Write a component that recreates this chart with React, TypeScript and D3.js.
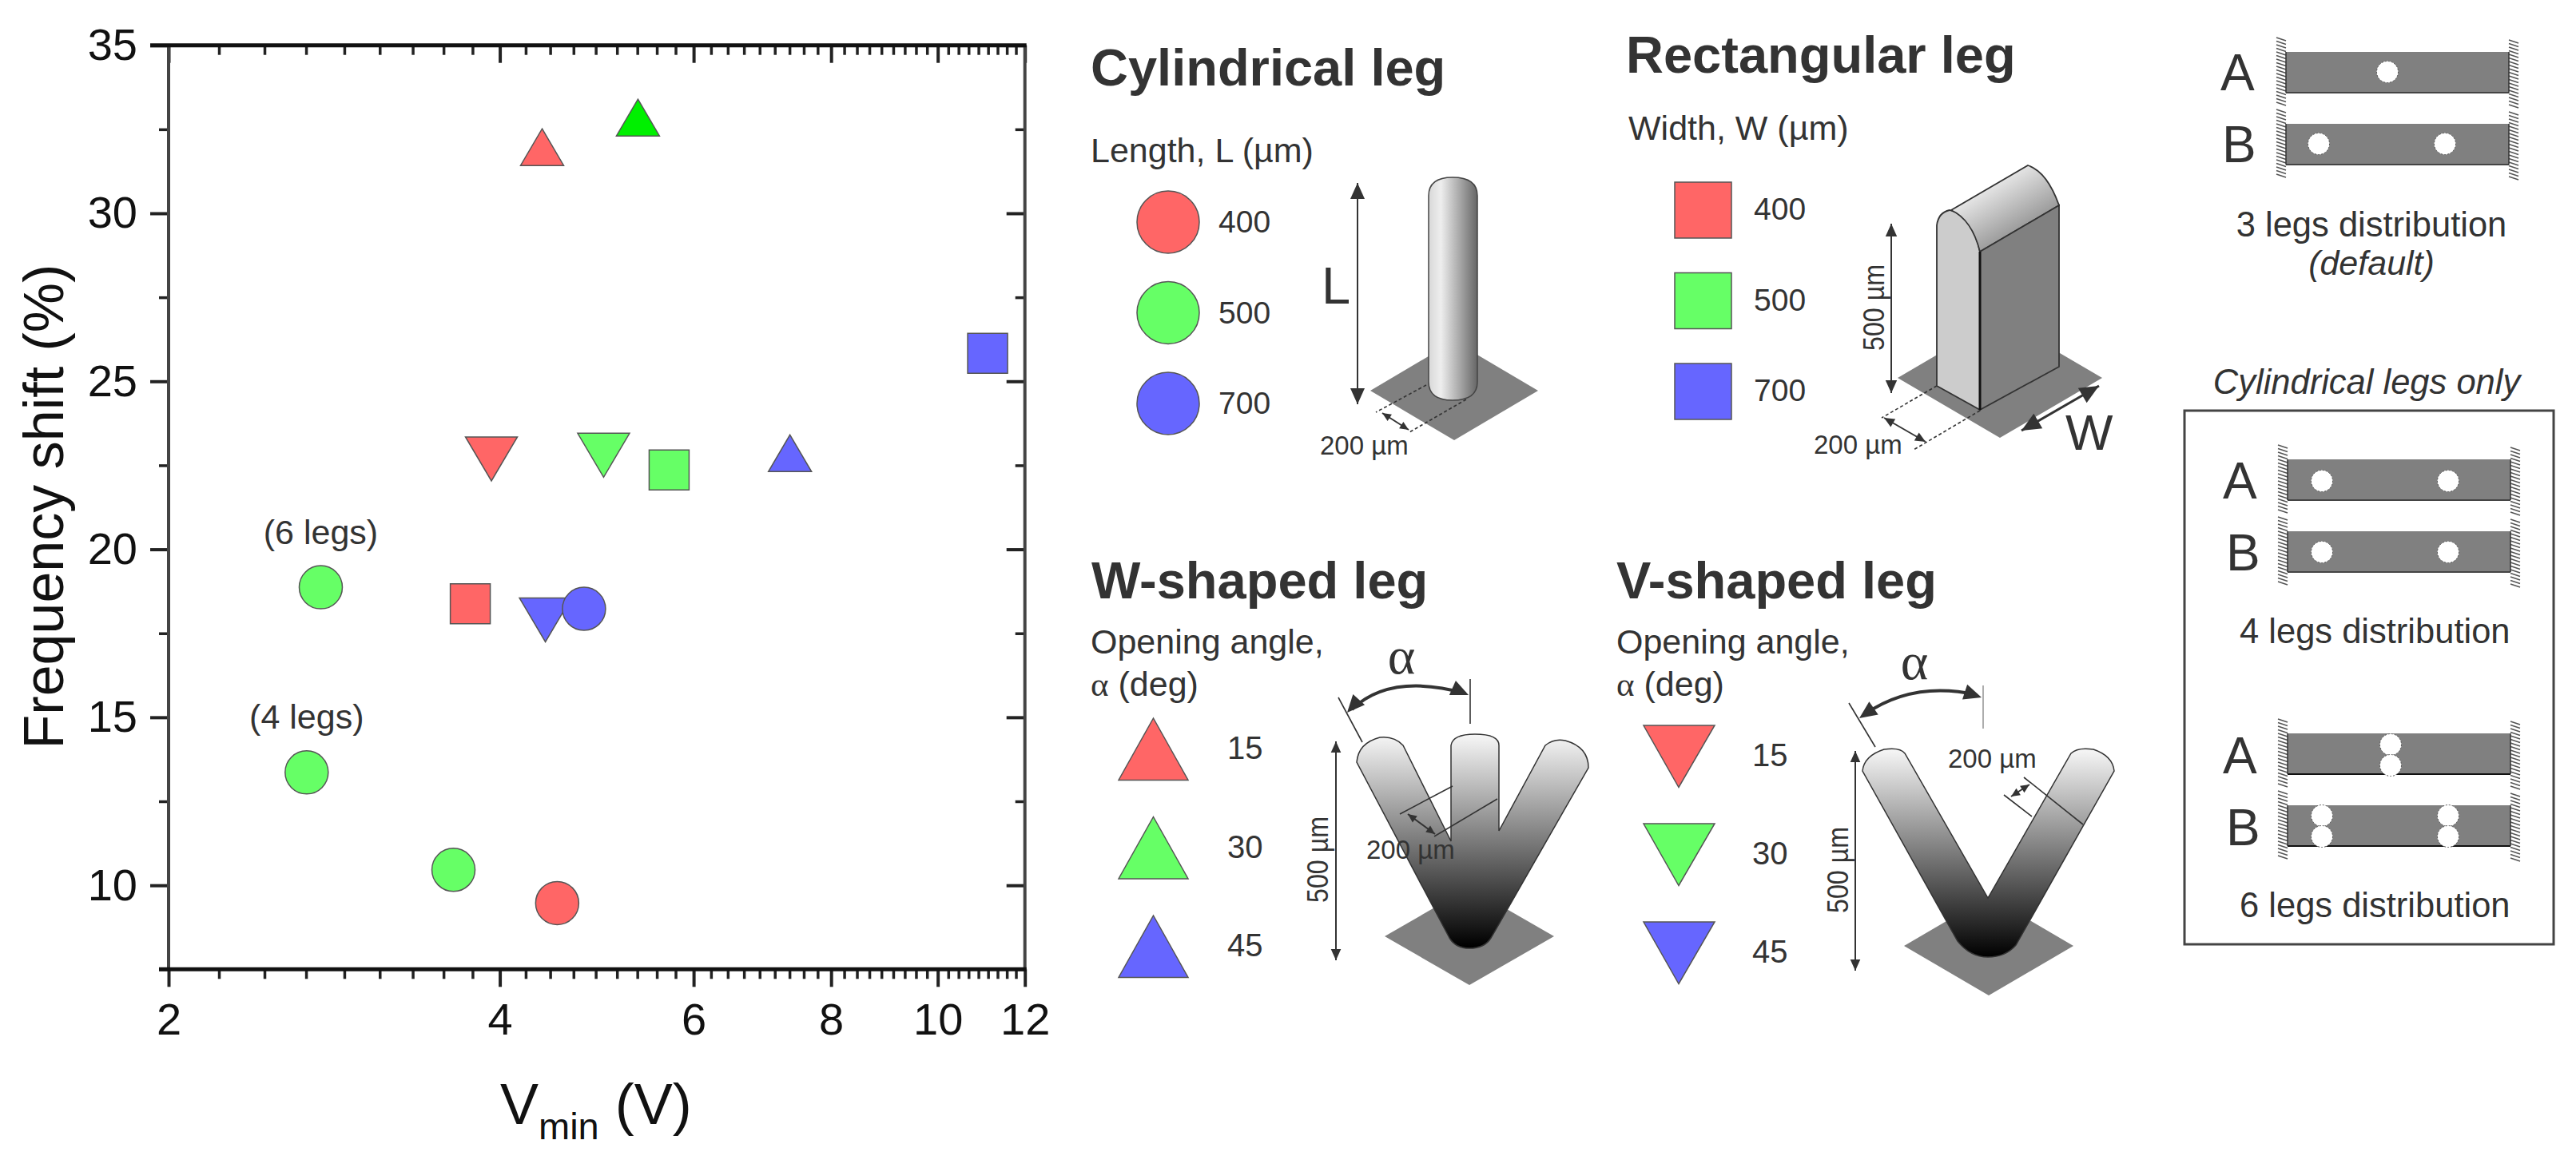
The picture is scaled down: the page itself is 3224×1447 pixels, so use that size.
import { useEffect, useRef } from 'react'
import * as d3 from "d3"

const WIDTH = 3224
const HEIGHT = 1447
const SANS = '"Liberation Sans", Arial, sans-serif'

// axis ticks
const xMajorTicks = [2, 4, 6, 8, 10, 12]
const xMinorSteps = [1, 2, 3, 4, 5, 6, 7, 8]
const yMajorTicks = [10, 15, 20, 25, 30, 35]
const yMinorTicks = [7.5, 12.5, 17.5, 22.5, 27.5, 32.5]

// values: [Vmin, frequency shift, group]
const circlePoints = [
  [2.75, 18.87, 'mid'],
  [2.67, 13.36, 'mid'],
  [3.63, 10.46, 'mid'],
  [4.51, 9.47, 'low'],
  [4.77, 18.23, 'high'],
]
const squarePoints = [
  [3.76, 18.38, 'low'],
  [5.7, 22.36, 'mid'],
  [11.1, 25.83, 'high'],
]
const upTrianglePoints = [
  [4.37, 31.86, 'low'],
  [5.34, 32.74, 'pure'],
  [7.34, 22.75, 'high'],
]
const downTrianglePoints = [
  [3.93, 22.82, 'low'],
  [4.97, 22.93, 'mid'],
  [4.4, 18.03, 'high'],
]
const pointNotes = [
  ['(6 legs)', 2.75, 20.15],
  ['(4 legs)', 2.67, 14.66],
]

const groupFill = { low: '#FF6666', mid: '#66FF66', high: '#6666FF', pure: '#00F000' }

// legends
const lengthLabels = ['400', '500', '700']
const angleLabels = ['15', '30', '45']
const legendFills = ['#FF6666', '#66FF66', '#6666FF']

const upPath = (w, h) => `M0,${-h * 0.6}L${w / 2},${h * 0.4}L${-w / 2},${h * 0.4}Z`
const downPath = (w, h) => `M${-w / 2},${-h * 0.4}L${w / 2},${-h * 0.4}L0,${h * 0.6}Z`

function Label({ x, y, size, children, weight = 'normal', italic = false, anchor = 'start', fill = '#333', rotate = 0, family = SANS, length = undefined }: any) {
  return (
    <text
      x={x} y={y} fontSize={size} fontWeight={weight} fontStyle={italic ? 'italic' : 'normal'}
      fontFamily={family} textAnchor={anchor} fill={fill}
      textLength={length} lengthAdjust={length ? 'spacingAndGlyphs' : undefined}
      transform={rotate ? `rotate(${rotate} ${x} ${y})` : undefined}
    >{children}</text>
  )
}

function Head({ x, y, angle, size = 14, fill = '#333' }: any) {
  // tip sits on x,y and the head points along angle
  return <path d={`M0,0L${-size},${size * 0.45}L${-size},${-size * 0.45}Z`} fill={fill}
    transform={`translate(${x},${y}) rotate(${angle})`} />
}

function DimArrow({ x1, y1, x2, y2, size = 14, width = 2, stroke = '#333' }: any) {
  const a = Math.atan2(y2 - y1, x2 - x1) * 180 / Math.PI
  return (
    <g>
      <line x1={x1} y1={y1} x2={x2} y2={y2} stroke={stroke} strokeWidth={width} />
      <Head x={x2} y={y2} angle={a} size={size} fill={stroke} />
      <Head x={x1} y={y1} angle={a + 180} size={size} fill={stroke} />
    </g>
  )
}

function Thin({ x1, y1, x2, y2, dash, stroke = '#333', width = 1.6 }: any) {
  return <line x1={x1} y1={y1} x2={x2} y2={y2} stroke={stroke} strokeWidth={width} strokeDasharray={dash} />
}

function Diamond({ cx, cy, hw = 105, hh = 61 }: any) {
  return <path d={`M${cx - hw},${cy}L${cx},${cy - hh}L${cx + hw},${cy}L${cx},${cy + hh}Z`} fill="#808080" />
}

function Wall({ x, y0, y1, w }: any) {
  // hatched clamp at the end of a beam
  return (
    <g stroke="#555" strokeWidth={1.5}>
      {d3.range(y0, y1, 4.5).map(y => <line key={y} x1={x} y1={y} x2={x + w} y2={y + 4} />)}
    </g>
  )
}

function Beam({ x, y, holes, left = 12, right = 12, edge = '#444' }: any) {
  const w = 279
  const h = 51
  return (
    <g>
      <Wall x={x - left} y0={y - 18} y1={y + 64} w={left} />
      <Wall x={x + w} y0={y - 15} y1={y + 68} w={right} />
      <rect x={x} y={y} width={w} height={h} fill="#808080" />
      <line x1={x} y1={y + h} x2={x + w} y2={y + h} stroke={edge} strokeWidth={2} />
      <line x1={x} y1={y} x2={x} y2={y + h} stroke="#333" strokeWidth={1.5} />
      <line x1={x + w} y1={y} x2={x + w} y2={y + h} stroke="#333" strokeWidth={1.5} />
      {holes.map(([dx, dy], i) => <circle key={i} cx={x + dx} cy={y + dy} r={13.5} fill="#fff" stroke="#555" strokeWidth={1} strokeDasharray="2 2" />)}
    </g>
  )
}

function FrequencyChart() {
  const ref = useRef(null)
  useEffect(() => {
    const left = 211, right = 1282.7, top = 56.7, bottom = 1213.3
    const x = d3.scaleLog().base(2).domain([2, 12]).range([left, right])
    const y = d3.scaleLinear().domain([7.5, 35]).range([bottom, top])
    const xMinorTicks = xMajorTicks.slice(0, -1).flatMap(t => xMinorSteps.map(k => t + k * 2 / 9))

    const g = d3.select(ref.current)
    g.selectAll('*').remove()

    const plain = (sel) => {
      sel.select('.domain').remove()
      sel.selectAll('line').attr('stroke', '#222')
    }
    const labelled = (sel) => {
      plain(sel)
      sel.selectAll('text').attr('font-size', 56).attr('font-family', SANS).attr('fill', '#111')
    }
    const fmt = d => String(d)
    const noText = () => ''

    g.append('g').attr('transform', `translate(0,${bottom})`)
      .call(d3.axisBottom(x).tickValues(xMajorTicks).tickSize(22).tickPadding(20).tickFormat(fmt)).call(labelled)
      .selectAll('line').attr('stroke-width', 4)
    g.append('g').attr('transform', `translate(0,${bottom})`)
      .call(d3.axisBottom(x).tickValues(xMinorTicks).tickSize(12).tickFormat(noText)).call(plain)
      .selectAll('line').attr('stroke-width', 3.5)
    g.append('g').attr('transform', `translate(0,${top})`)
      .call(d3.axisBottom(x).tickValues(xMajorTicks).tickSize(22).tickFormat(noText)).call(plain)
      .selectAll('line').attr('stroke-width', 4)
    g.append('g').attr('transform', `translate(0,${top})`)
      .call(d3.axisBottom(x).tickValues(xMinorTicks).tickSize(12).tickFormat(noText)).call(plain)
      .selectAll('line').attr('stroke-width', 3.5)

    g.append('g').attr('transform', `translate(${left},0)`)
      .call(d3.axisLeft(y).tickValues(yMajorTicks).tickSize(23).tickPadding(16).tickFormat(fmt)).call(labelled)
      .selectAll('line').attr('stroke-width', 4)
    g.append('g').attr('transform', `translate(${left},0)`)
      .call(d3.axisLeft(y).tickValues(yMinorTicks).tickSize(12).tickFormat(noText)).call(plain)
      .selectAll('line').attr('stroke-width', 3.5)
    g.append('g').attr('transform', `translate(${right},0)`)
      .call(d3.axisLeft(y).tickValues(yMajorTicks).tickSize(23).tickFormat(noText)).call(plain)
      .selectAll('line').attr('stroke-width', 4)
    g.append('g').attr('transform', `translate(${right},0)`)
      .call(d3.axisLeft(y).tickValues(yMinorTicks).tickSize(12).tickFormat(noText)).call(plain)
      .selectAll('line').attr('stroke-width', 3.5)

    // frame
    g.append('line').attr('x1', left).attr('x2', left).attr('y1', top).attr('y2', bottom).attr('stroke', '#444').attr('stroke-width', 4)
    g.append('line').attr('x1', right).attr('x2', right).attr('y1', top).attr('y2', bottom).attr('stroke', '#444').attr('stroke-width', 4)
    g.append('line').attr('x1', left - 23).attr('x2', right + 2).attr('y1', top).attr('y2', top).attr('stroke', '#111').attr('stroke-width', 5)
    g.append('line').attr('x1', left - 12).attr('x2', right + 2).attr('y1', bottom).attr('y2', bottom).attr('stroke', '#111').attr('stroke-width', 5)

    const marks = g.append('g')
    const draw = (points, d) => {
      marks.selectAll(null).data(points).join('path')
        .attr('d', d)
        .attr('transform', p => `translate(${x(p[0])},${y(p[1])})`)
        .attr('fill', p => groupFill[p[2]])
        .attr('stroke', '#555')
        .attr('stroke-width', 1.5)
    }
    draw(upTrianglePoints, upPath(54, 46))
    draw(downTrianglePoints, downPath(65, 55))
    draw(squarePoints, d3.symbol(d3.symbolSquare, 50 * 50)())
    draw(circlePoints, d3.symbol(d3.symbolCircle, Math.PI * 27 * 27)())

    g.selectAll('text.note').data(pointNotes).join('text')
      .attr('class', 'note')
      .attr('x', d => x(d[1]))
      .attr('y', d => y(d[2]))
      .attr('text-anchor', 'middle')
      .attr('font-family', SANS)
      .attr('font-size', 43)
      .attr('fill', '#333')
      .text(d => d[0])
  }, [])
  return <g ref={ref} />
}

export default function App() {
  return (
    <svg width={WIDTH} height={HEIGHT} viewBox={`0 0 ${WIDTH} ${HEIGHT}`}
      style={{ position: 'absolute', left: 0, top: 0, display: 'block', background: '#fff' }}>
      <defs>
        <linearGradient id="cyl" x1="0" x2="1" y1="0" y2="0">
          <stop offset="0" stopColor="#d8d8d8" />
          <stop offset="0.25" stopColor="#eeeeee" />
          <stop offset="1" stopColor="#666666" />
        </linearGradient>
        <linearGradient id="roof" gradientUnits="userSpaceOnUse" x1="2490" y1="225" x2="2535" y2="300">
          <stop offset="0" stopColor="#eeeeee" />
          <stop offset="1" stopColor="#8a8a8a" />
        </linearGradient>
        <linearGradient id="legW" gradientUnits="userSpaceOnUse" x1="0" x2="0" y1="920" y2="1185">
          <stop offset="0" stopColor="#f6f6f6" />
          <stop offset="1" stopColor="#000000" />
        </linearGradient>
        <linearGradient id="legV" gradientUnits="userSpaceOnUse" x1="0" x2="0" y1="938" y2="1198">
          <stop offset="0" stopColor="#f6f6f6" />
          <stop offset="1" stopColor="#000000" />
        </linearGradient>
      </defs>

      <FrequencyChart />
      <Label x={79} y={634} size={70} anchor="middle" rotate={-90} fill="#111">Frequency shift (%)</Label>
      <text x={626} y={1407} fontFamily={SANS} fontSize={72} fill="#111">V<tspan fontSize={47} dy={19}>min</tspan><tspan dy={-19}> (V)</tspan></text>

      {/* cylindrical leg */}
      <Label x={1365} y={107} size={65} weight="bold">Cylindrical leg</Label>
      <Label x={1365} y={203} size={43}>Length, L (µm)</Label>
      {lengthLabels.map((d, i) => (
        <g key={d}>
          <circle cx={1462} cy={278 + i * 113.5} r={39} fill={legendFills[i]} stroke="#555" strokeWidth={1.5} />
          <Label x={1525} y={291 + i * 113.5} size={39}>{d}</Label>
        </g>
      ))}
      <DimArrow x1={1699} y1={229} x2={1699} y2={506} size={20} />
      <Label x={1654} y={380} size={65}>L</Label>
      <Diamond cx={1820} cy={489} hw={105} hh={62} />
      <Thin x1={1785} y1={482} x2={1722} y2={516} dash="4 3" />
      <Thin x1={1835} y1={500} x2={1764} y2={541} dash="4 3" />
      <DimArrow x1={1730} y1={517} x2={1763} y2={538} size={11} />
      <path d="M1788,245 Q1788,222 1818,222 Q1849,222 1849,245 L1849,478 Q1849,501 1818,501 Q1788,501 1788,478 Z" fill="url(#cyl)" stroke="#444" strokeWidth={1.5} />
      <Label x={1652} y={569} size={33}>200 µm</Label>

      {/* rectangular leg */}
      <Label x={2035} y={91} size={65} weight="bold">Rectangular leg</Label>
      <Label x={2038} y={175} size={43}>Width, W (µm)</Label>
      {lengthLabels.map((d, i) => (
        <g key={d}>
          <rect x={2096} y={228 + i * 113.5} width={71} height={70} fill={legendFills[i]} stroke="#555" strokeWidth={1.5} />
          <Label x={2195} y={275 + i * 113.5} size={39}>{d}</Label>
        </g>
      ))}
      <Diamond cx={2503} cy={473} hw={128} hh={75} />
      <path d="M2424,282 Q2426,266 2440,263 Q2468,270 2478,315 L2478,513 L2424,483 Z" fill="#cccccc" stroke="#333" strokeWidth={1.8} />
      <path d="M2442,263 L2538,207 Q2562,215 2577,257 L2478,315 Q2468,275 2442,263 Z" fill="url(#roof)" stroke="#333" strokeWidth={1.8} />
      <path d="M2478,315 L2577,257 L2577,459 L2478,513 Z" fill="#808080" stroke="#333" strokeWidth={1.8} />
      <line x1={2478} y1={315} x2={2478} y2={513} stroke="#111" strokeWidth={3} />
      <Thin x1={2424} y1={483} x2={2355} y2={523} dash="4 3" />
      <Thin x1={2478} y1={514} x2={2395} y2={563} dash="4 3" />
      <DimArrow x1={2358} y1={523} x2={2410} y2={553} size={13} />
      <DimArrow x1={2367} y1={280} x2={2367} y2={492} size={16} />
      <Label x={2358} y={385} size={36} anchor="middle" rotate={-90} length={108}>500 µm</Label>
      <Label x={2270} y={568} size={33}>200 µm</Label>
      <DimArrow x1={2530} y1={539} x2={2627} y2={483} size={24} width={3} />
      <Label x={2585} y={563} size={63}>W</Label>

      {/* W-shaped leg */}
      <Label x={1366} y={749} size={65} weight="bold">W-shaped leg</Label>
      <Label x={1365} y={818} size={43}>Opening angle,</Label>
      <Label x={1365} y={871} size={43}><tspan fontFamily='"Liberation Serif", serif'>α</tspan> (deg)</Label>
      {angleLabels.map((d, i) => (
        <g key={d}>
          <path d={`M1443.5,${899 + i * 123.5}L1487,${976.5 + i * 123.5}L1400,${976.5 + i * 123.5}Z`} fill={legendFills[i]} stroke="#555" strokeWidth={1.5} />
          <Label x={1536} y={950 + i * 123.5} size={40}>{d}</Label>
        </g>
      ))}
      <Diamond cx={1839} cy={1172} hw={106} hh={61} />
      <path d="M1698,954 Q1700,930 1727,923 Q1745,921 1756,933 L1816,1053 L1816,933 Q1818,919 1846,919 Q1876,919 1876,933 L1876,1040 L1934,933 Q1945,924 1959,927 Q1988,935 1988,961 L1866,1174 Q1858,1187 1839,1187 Q1822,1187 1814,1174 Z"
        fill="url(#legW)" stroke="#333" strokeWidth={1.5} />
      <Thin x1={1818} y1={984} x2={1752} y2={1019} />
      <Thin x1={1874} y1={1000} x2={1795} y2={1047} />
      <DimArrow x1={1762} y1={1019} x2={1796} y2={1044} size={11} />
      <Label x={1710} y={1075} size={33}>200 µm</Label>
      <DimArrow x1={1672} y1={928} x2={1672} y2={1202} size={14} />
      <Label x={1662} y={1076} size={36} anchor="middle" rotate={-90} length={108}>500 µm</Label>
      <Label x={1754} y={843} size={66} anchor="middle" family='"Liberation Serif", serif'>α</Label>
      <Thin x1={1675} y1={873} x2={1705} y2={929} />
      <Thin x1={1840} y1={850} x2={1840} y2={906} />
      <path d="M1692,888 Q1740,842 1834,868" fill="none" stroke="#333" strokeWidth={4} />
      <Head x={1686} y={892} angle={132} size={22} />
      <Head x={1838} y={870} angle={24} size={22} />

      {/* V-shaped leg */}
      <Label x={2023} y={749} size={65} weight="bold">V-shaped leg</Label>
      <Label x={2023} y={818} size={43}>Opening angle,</Label>
      <Label x={2023} y={871} size={43}><tspan fontFamily='"Liberation Serif", serif'>α</tspan> (deg)</Label>
      {angleLabels.map((d, i) => (
        <g key={d}>
          <path d={`M2057,${908 + i * 123}L2146,${908 + i * 123}L2101,${985.5 + i * 123}Z`} fill={legendFills[i]} stroke="#555" strokeWidth={1.5} />
          <Label x={2193} y={959 + i * 123} size={40}>{d}</Label>
        </g>
      ))}
      <Diamond cx={2489} cy={1184} hw={106} hh={62} />
      <path d="M2331,965 Q2333,946 2358,938 Q2378,935 2384,943 L2488,1124 L2592,943 Q2600,935 2620,938 Q2644,946 2646,965 L2523,1183 Q2510,1198 2488,1198 Q2466,1198 2450,1178 Z"
        fill="url(#legV)" stroke="#333" strokeWidth={1.5} />
      <Thin x1={2508} y1={995} x2={2543} y2={1022} />
      <Thin x1={2533} y1={973} x2={2607} y2={1032} />
      <DimArrow x1={2517} y1={997} x2={2540} y2={982} size={11} />
      <Label x={2438} y={961} size={33}>200 µm</Label>
      <DimArrow x1={2322} y1={940} x2={2322} y2={1215} size={14} />
      <Label x={2313} y={1089} size={36} anchor="middle" rotate={-90} length={108}>500 µm</Label>
      <Label x={2396} y={850} size={66} anchor="middle" family='"Liberation Serif", serif'>α</Label>
      <Thin x1={2314} y1={880} x2={2347} y2={935} />
      <Thin x1={2482} y1={858} x2={2482} y2={912} stroke="#999" />
      <path d="M2334,894 Q2395,852 2474,870" fill="none" stroke="#333" strokeWidth={4} />
      <Head x={2327} y={899} angle={145} size={22} />
      <Head x={2480} y={873} angle={18} size={22} />

      {/* leg distributions */}
      <Label x={2779} y={113} size={64}>A</Label>
      <Label x={2781} y={203} size={64}>B</Label>
      <Beam x={2861} y={65} holes={[[127, 25]]} />
      <Beam x={2861} y={155} holes={[[41, 25], [199, 25]]} />
      <Label x={2968} y={296} size={43.5} anchor="middle">3 legs distribution</Label>
      <Label x={2968} y={344} size={43} anchor="middle" italic>(default)</Label>

      <Label x={2962} y={493} size={43.5} anchor="middle" italic>Cylindrical legs only</Label>
      <rect x={2734} y={514} width={462} height={668} fill="none" stroke="#444" strokeWidth={3} />
      <Label x={2782} y={624} size={64}>A</Label>
      <Label x={2786} y={714} size={64}>B</Label>
      <Beam x={2863} y={575} holes={[[43, 27], [201, 27]]} />
      <Beam x={2863} y={665} holes={[[43, 26], [201, 26]]} />
      <Label x={2803} y={805} size={43.5}>4 legs distribution</Label>
      <Label x={2782} y={968} size={64}>A</Label>
      <Label x={2786} y={1058} size={64}>B</Label>
      <Beam x={2863} y={918} edge="#111" holes={[[129, 14], [129, 40]]} />
      <Beam x={2863} y={1008} edge="#111" holes={[[43, 13], [43, 39], [201, 13], [201, 39]]} />
      <Label x={2803} y={1148} size={43.5}>6 legs distribution</Label>
    </svg>
  )
}
